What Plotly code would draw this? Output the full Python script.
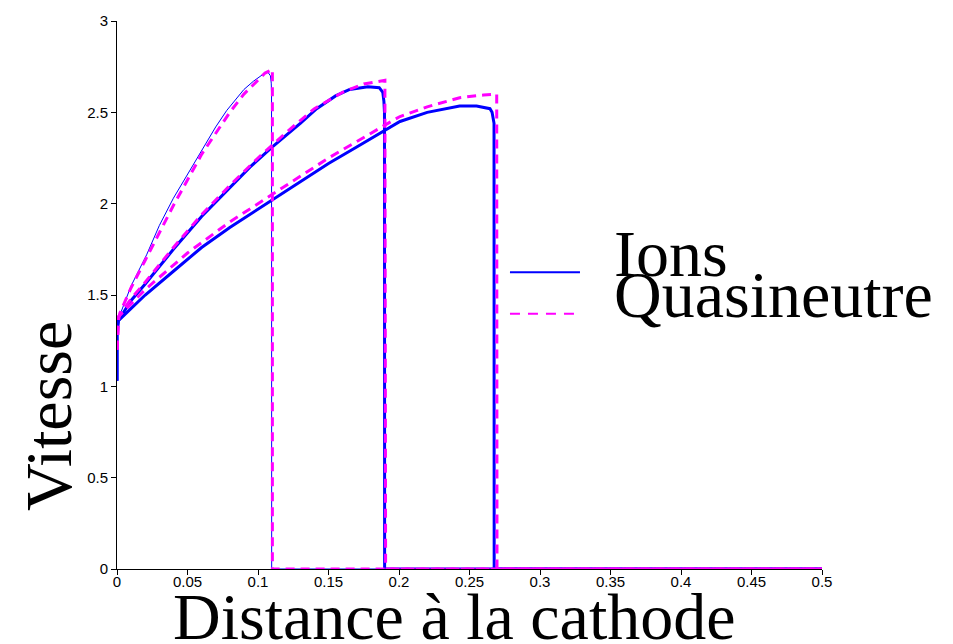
import plotly.graph_objects as go

# ---------------- data ----------------
# Run 1 (ends near x = 0.11)
ions1_x = [0, 0, 0.001, 0.01, 0.021, 0.03, 0.04, 0.05, 0.059, 0.07, 0.0778, 0.085, 0.09, 0.0967, 0.103, 0.107, 0.1088, 0.1094, 0.1096, 0.1097, 0.5]
ions1_y = [1.03, 1.30, 1.37, 1.55, 1.72, 1.88, 2.03, 2.16, 2.28, 2.42, 2.51, 2.58, 2.625, 2.67, 2.705, 2.72, 2.70, 2.66, 2.60, 0, 0]
quasi1_x = [0, 0.001, 0.002, 0.01, 0.02, 0.04, 0.06, 0.08, 0.09, 0.1, 0.105, 0.1102, 0.1102, 0.5]
quasi1_y = [1.20, 1.36, 1.40, 1.54, 1.69, 1.99, 2.27, 2.50, 2.60, 2.68, 2.715, 2.735, 0, 0]

# Run 2 (ends near x = 0.19)
ions2_x = [0, 0, 0.001, 0.01, 0.02, 0.04, 0.06, 0.08, 0.0943, 0.11, 0.118, 0.13, 0.1416, 0.155, 0.165, 0.178, 0.186, 0.1885, 0.1893, 0.1897, 0.1898, 0.5]
ions2_y = [1.03, 1.30, 1.36, 1.47, 1.56, 1.75, 1.93, 2.09, 2.20, 2.31, 2.36, 2.44, 2.52, 2.59, 2.625, 2.64, 2.635, 2.61, 2.56, 2.50, 0, 0]
quasi2_x = [0, 0.001, 0.01, 0.02, 0.04, 0.06, 0.08, 0.1, 0.12, 0.14, 0.16, 0.175, 0.19, 0.1905, 0.5]
quasi2_y = [1.20, 1.38, 1.48, 1.57, 1.76, 1.94, 2.10, 2.25, 2.39, 2.52, 2.61, 2.655, 2.675, 0, 0]

# Run 3 (ends near x = 0.27)
ions3_x = [0, 0, 0.001, 0.02, 0.04, 0.06, 0.08, 0.11, 0.13, 0.15, 0.17, 0.19, 0.2007, 0.22, 0.243, 0.255, 0.2645, 0.266, 0.267, 0.2674, 0.2675, 0.5]
ions3_y = [1.03, 1.30, 1.36, 1.50, 1.63, 1.76, 1.87, 2.02, 2.12, 2.22, 2.31, 2.40, 2.45, 2.50, 2.534, 2.535, 2.52, 2.50, 2.46, 2.44, 0, 0]
quasi3_x = [0, 0.001, 0.02, 0.05, 0.08, 0.1, 0.15, 0.19, 0.2007, 0.22, 0.243, 0.26, 0.2693, 0.2695, 0.5]
quasi3_y = [1.20, 1.38, 1.53, 1.73, 1.90, 2.00, 2.25, 2.43, 2.477, 2.53, 2.58, 2.595, 2.60, 0, 0]

x_ticks = [0, 0.05, 0.1, 0.15, 0.2, 0.25, 0.3, 0.35, 0.4, 0.45, 0.5]
y_ticks = [0, 0.5, 1, 1.5, 2, 2.5, 3]

legend_labels = ["Ions", "Quasineutre"]
x_title = "Distance à la cathode"
y_title = "Vitesse"

BLUE = "#0000FF"
MAGENTA = "#FF00FF"
SERIF = "Liberation Serif, Times New Roman, serif"
SANS = "Liberation Sans, Arial, sans-serif"

fig = go.Figure()

for xs, ys, w in [(ions1_x, ions1_y, 1), (ions2_x, ions2_y, 3), (ions3_x, ions3_y, 3)]:
    fig.add_trace(go.Scatter(x=xs, y=ys, mode="lines", name=legend_labels[0],
                             line=dict(color=BLUE, width=w), showlegend=False))
for xs, ys in [(quasi1_x, quasi1_y), (quasi2_x, quasi2_y), (quasi3_x, quasi3_y)]:
    fig.add_trace(go.Scatter(x=xs, y=ys, mode="lines", name=legend_labels[1],
                             line=dict(color=MAGENTA, width=3, dash="9px,6px"), showlegend=False))

# hand-made legend (entries overlap tightly as in the reference)
fig.add_shape(type="line", xref="paper", yref="paper", x0=0.5574, x1=0.6567, y0=0.5414, y1=0.5414,
              line=dict(color=BLUE, width=2))
fig.add_shape(type="line", xref="paper", yref="paper", x0=0.5574, x1=0.6567, y0=0.4658, y1=0.4658,
              line=dict(color=MAGENTA, width=2, dash="10px,8px"))
fig.add_annotation(xref="paper", yref="paper", x=0.702, y=0.576, xanchor="left", yanchor="middle",
                   text=legend_labels[0], showarrow=False, font=dict(family=SERIF, size=66, color="black"))
fig.add_annotation(xref="paper", yref="paper", x=0.702, y=0.501, xanchor="left", yanchor="middle",
                   text=legend_labels[1], showarrow=False, font=dict(family=SERIF, size=66, color="black"))

# axis titles
fig.add_annotation(xref="paper", yref="paper", x=0.479, y=-0.086, xanchor="center", yanchor="middle",
                   text=x_title, showarrow=False, font=dict(family=SERIF, size=66, color="black"))
fig.add_annotation(xref="paper", yref="paper", x=-0.098, y=0.279, xanchor="center", yanchor="middle",
                   text=y_title, textangle=-90, showarrow=False, font=dict(family=SERIF, size=66, color="black"))

fig.update_layout(
    width=953, height=644,
    margin=dict(l=117, r=131, t=13, b=75),
    paper_bgcolor="white", plot_bgcolor="white",
    showlegend=False,
)
fig.update_xaxes(range=[0, 0.5], tickvals=x_ticks, ticktext=[f"{v:g}" for v in x_ticks],
                 showline=True, linecolor="black", linewidth=1, ticks="outside", ticklen=5,
                 tickcolor="black", showgrid=False, zeroline=False, ticklabelstandoff=-6,
                 tickfont=dict(family=SANS, size=15, color="black"))
fig.update_yaxes(range=[0, 3], tickvals=y_ticks, ticktext=[f"{v:g}" for v in y_ticks],
                 showline=True, linecolor="black", linewidth=1, ticks="outside", ticklen=5,
                 tickcolor="black", showgrid=False, zeroline=False,
                 tickfont=dict(family=SANS, size=15, color="black"))

fig.write_html("out.html")
